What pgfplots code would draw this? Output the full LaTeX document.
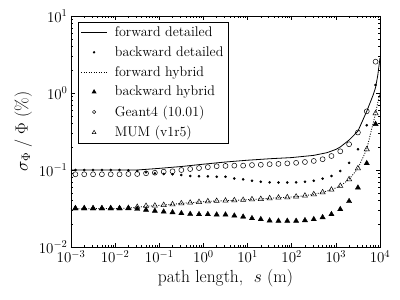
\RequirePackage{fix-cm}
\documentclass[border=0pt]{standalone}
\usepackage{pgfplots}
\usepackage{pgfplotstable}
\pgfplotsset{compat=1.18}
\pgfplotstableread{
s        bd      g4      bh      mum
1.2589e-3 0.1000 0.0880 0.0318 0.0318
1.9953e-3 0.1000 0.0880 0.0318 0.0318
3.1623e-3 0.1000 0.0880 0.0318 0.0318
5.0119e-3 0.1000 0.0880 0.0318 0.0318
7.9433e-3 0.1000 0.0880 0.0318 0.0318
1.2589e-2 0.1000 0.0880 0.0318 0.0318
1.9953e-2 0.0991 0.0887 0.0318 0.0321
3.1623e-2 0.0970 0.0887 0.0312 0.0331
5.0119e-2 0.0933 0.0906 0.0303 0.0341
7.9433e-2 0.0906 0.0922 0.0294 0.0344
0.12589   0.0887 0.0950 0.0287 0.0351
0.19953   0.0880 0.0962 0.0282 0.0358
0.31623   0.0861 0.1000 0.0274 0.0369
0.50119   0.0836 0.1030 0.0268 0.0376
0.79433   0.0828 0.1060 0.0266 0.0384
1.2589    0.0828 0.1090 0.0266 0.0392
1.9953    0.0818 0.1120 0.0263 0.0396
3.1623    0.0818 0.1130 0.0263 0.0399
5.0119    0.0776 0.1140 0.0255 0.0404
7.9433    0.0757 0.1140 0.0247 0.0408
12.589    0.0726 0.1160 0.0236 0.0416
19.953    0.0705 0.1170 0.0229 0.0420
31.623    0.0692 0.1190 0.0220 0.0429
50.119    0.0689 0.1200 0.0218 0.0437
79.433    0.0689 0.1220 0.0218 0.0442
125.89    0.0692 0.1240 0.0218 0.0450
199.53    0.0705 0.1270 0.0222 0.0464
316.23    0.0726 0.1310 0.0229 0.0484
501.19    0.0771 0.1380 0.0243 0.0513
794.33    0.0836 0.1520 0.0266 0.0555
1258.9    0.0970 0.1750 0.0309 0.0620
1995.3    0.1240 0.2160 0.0393 0.0757
3162.3    0.1858 0.3070 0.0589 0.1052
5011.9    0.3820 0.5780 0.1222 0.1857
7943.3    1.2700 2.5500 0.3950 0.5450
}\markdata
\pgfplotsset{
  legline/.style={legend image code/.code={\draw[##1] (0pt,0pt) -- (26pt,0pt);}},
  legmark/.style={legend image code/.code={\draw[##1, mark size=#1] plot coordinates {(13pt,0pt)};}},
}
\newcommand\lf{\fontsize{14}{16}\selectfont}
\begin{document}
\begin{tikzpicture}
\begin{axis}[
  scale only axis, width=309pt, height=231pt,
  xmode=log, ymode=log,
  xmin=1e-3, xmax=1e4, ymin=1e-2, ymax=10,
  ytick={1e-2,1e-1,1,10},
  tick align=inside, tick pos=both,
  major tick length=4pt, minor tick length=2pt,
  axis line style={line width=0.6pt},
  every tick/.style={black, line width=0.5pt},
  tick label style={font=\fontsize{15}{18}\selectfont},
  label style={font=\fontsize{17.5}{21}\selectfont},
  xlabel={path length, \ $s$ (m)},
  ylabel={$\sigma_\Phi$ / $\Phi$ (\%)},
  legend cell align=left,
  legend style={at={(0.022,0.976)}, anchor=north west, draw=black, line width=0.6pt,
    nodes={inner sep=2pt},
    inner xsep=2.6pt, inner ysep=3pt, row sep=4.5pt,
    /tikz/every odd column/.append style={column sep=5.4pt}},
]
\addplot[black, line width=0.8pt, legline] coordinates {
 (0.001,0.100) (0.0316,0.100) (0.1,0.105) (0.31623,0.111) (1,0.119) (3.1623,0.127)
 (10,0.134) (31.623,0.140) (100,0.145) (316.23,0.155) (630.96,0.168) (1000,0.185)
 (1258.9,0.199) (1995.3,0.245) (3162.3,0.320) (3981.1,0.43) (5011.9,0.58)
 (6309.6,0.81) (7079.5,0.96) (7943.3,1.18) (8912.5,1.70) (10000,2.85)};
\addlegendentry{\lf forward detailed}
\addplot[only marks, mark=*, mark size=1.1pt, black, legmark=0.9pt] table[x=s, y=bd] {\markdata};
\addlegendentry{\lf backward detailed}
\addplot[black, line width=0.8pt, dash pattern=on 1pt off 1.5pt, legline] coordinates {
 (0.001,0.0314) (0.01,0.0316) (0.02,0.0320) (0.031623,0.0328) (0.050119,0.0338)
 (0.079433,0.0344) (0.12589,0.0351) (0.19953,0.0358) (0.31623,0.0369) (0.50119,0.0376)
 (0.79433,0.0384) (1.2589,0.0392) (1.9953,0.0396) (3.1623,0.0399) (5.0119,0.0404)
 (7.9433,0.0408) (12.589,0.0416) (19.953,0.0420) (31.623,0.0429) (50.119,0.0437)
 (79.433,0.0442) (125.89,0.0450) (199.53,0.0464) (316.23,0.0484) (501.19,0.0513)
 (794.33,0.0555) (1258.9,0.0620) (1995.3,0.0757) (3162.3,0.1052) (5011.9,0.1857)
 (6309.6,0.32) (7943.3,0.545) (8912.5,0.75) (10000,1.0)};
\addlegendentry{\lf forward hybrid}
\addplot[only marks, mark=triangle*, mark size=3pt, black, legmark=2.2pt] table[x=s, y=bh] {\markdata};
\addlegendentry{\lf backward hybrid}
\addplot[only marks, mark=o, mark size=2.5pt, black, mark options={line width=0.5pt}, legmark=1.7pt] table[x=s, y=g4] {\markdata};
\addlegendentry{\lf Geant4 (10.01)}
\addplot[only marks, mark=triangle, mark size=3pt, black, mark options={line width=0.5pt}, legmark=2.2pt] table[x=s, y=mum] {\markdata};
\addlegendentry{\lf MUM (v1r5)}
\end{axis}
\pgfresetboundingbox
\path[use as bounding box] (-71pt,-53pt) rectangle (329pt,247pt);
\end{tikzpicture}
\end{document}
